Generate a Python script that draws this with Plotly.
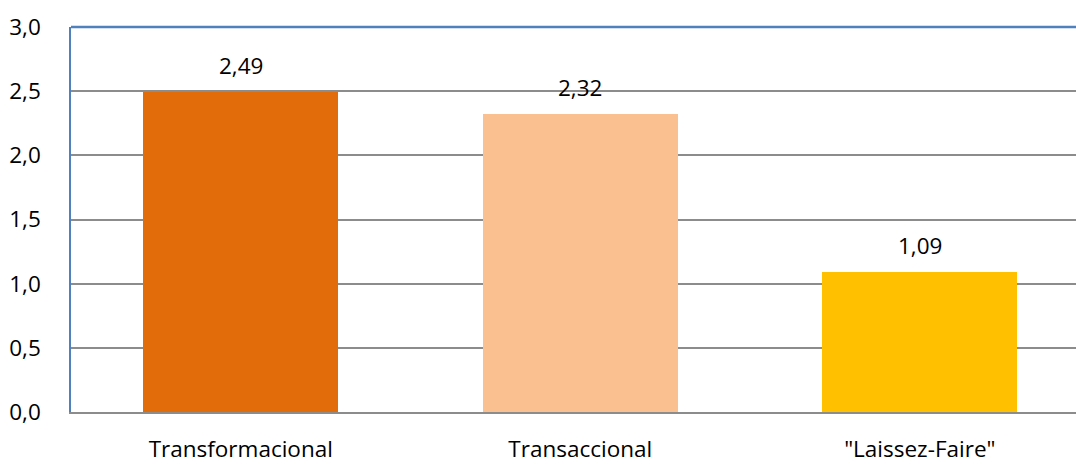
import plotly.graph_objects as go

categories = ["Transformacional", "Transaccional", "\"Laissez-Faire\""]
values = [2.49, 2.32, 1.09]
colors = ["#E36C0A", "#FAC090", "#FFC000"]
y_ticks = [0, 0.5, 1.0, 1.5, 2.0, 2.5, 3.0]

FONT = "Open Sans"
FSIZE = 22.5

fig = go.Figure()
fig.add_trace(go.Bar(
    x=list(range(len(categories))),
    y=values,
    marker=dict(color=colors, line=dict(width=0)),
    width=0.574,
    hoverinfo="skip",
))

# value labels above each bar
for i, v in enumerate(values):
    fig.add_annotation(
        x=i, y=v, text=f"{v:.2f}".replace(".", ","),
        showarrow=False, yanchor="bottom", yshift=9,
        font=dict(family=FONT, size=FSIZE, color="#000000"),
    )

fig.update_layout(
    width=1076, height=464,
    margin=dict(l=71, r=0, t=27, b=52),
    paper_bgcolor="white", plot_bgcolor="white",
    separators=",.",
    showlegend=False,
    font=dict(family=FONT, size=FSIZE, color="#000000"),
    bargap=0,
)

fig.update_xaxes(
    range=[-0.5, 2.46],
    tickvals=list(range(len(categories))),
    ticktext=categories,
    showgrid=False, zeroline=False,
    showline=True, linecolor="#8C8C8C", linewidth=2,
    ticks="", ticklabelstandoff=16,
    automargin=False,
    tickfont=dict(family=FONT, size=FSIZE),
)
fig.update_yaxes(
    range=[0, 3.0],
    tickvals=y_ticks,
    tickformat=".1f",
    showgrid=True, gridcolor="#8C8C8C", gridwidth=1.5,
    zeroline=False,
    showline=True, linecolor="#4F81BD", linewidth=1.5,
    ticks="", ticklabelstandoff=24,
    automargin=False,
    tickfont=dict(family=FONT, size=FSIZE),
)

# blue frame line along the top of the plot area
fig.add_shape(type="line", xref="paper", yref="paper",
              x0=0, x1=1, y0=1, y1=1,
              line=dict(color="#4F81BD", width=2.5))

fig.write_html("out.html")
